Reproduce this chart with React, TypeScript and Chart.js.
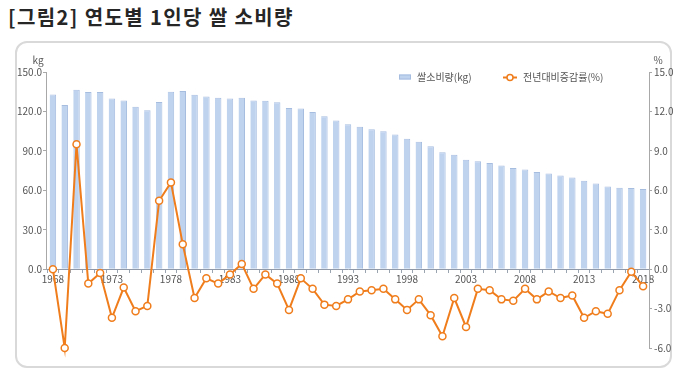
import React, { useEffect, useRef } from "react";
import { Chart, registerables } from "chart.js";

Chart.register(...registerables);

const FONT = "'Noto Sans CJK KR', 'Noto Sans', sans-serif";

const titleText = "[그림2] 연도별 1인당 쌀 소비량";
const barLabel = "쌀소비량(kg)";
const lineLabel = "전년대비증감률(%)";
const leftUnit = "kg";
const rightUnit = "%";

const years = [
  "1968", "1969", "1970", "1971", "1972", "1973", "1974", "1975", "1976", "1977",
  "1978", "1979", "1980", "1981", "1982", "1983", "1984", "1985", "1986", "1987",
  "1988", "1989", "1990", "1991", "1992", "1993", "1994", "1995", "1996", "1997",
  "1998", "1999", "2000", "2001", "2002", "2003", "2004", "2005", "2006", "2007",
  "2008", "2009", "2010", "2011", "2012", "2013", "2014", "2015", "2016", "2017",
  "2018",
];

const consumption = [
  132.9, 124.8, 136.4, 134.7, 134.7, 129.9, 128.4, 123.6, 120.9, 127.1,
  135.0, 135.6, 132.6, 131.4, 130.4, 129.9, 130.4, 128.4, 128.1, 126.9,
  122.7, 122.3, 119.6, 116.4, 113.1, 110.2, 108.3, 106.5, 105.0, 102.4,
  99.2, 96.9, 93.6, 88.9, 87.0, 83.2, 82.0, 80.7, 78.8, 76.9,
  75.8, 74.0, 72.8, 71.2, 69.8, 67.2, 65.1, 62.9, 61.9, 61.8,
  61.0,
];

const changeRate = [
  0.0, -6.0, 9.5, -1.1, -0.3, -3.7, -1.4, -3.2, -2.8, 5.2,
  6.6, 1.9, -2.2, -0.7, -1.1, -0.4, 0.4, -1.5, -0.4, -1.1,
  -3.1, -0.7, -1.5, -2.7, -2.8, -2.3, -1.7, -1.6, -1.5, -2.3,
  -3.1, -2.3, -3.5, -5.1, -2.2, -4.4, -1.5, -1.6, -2.3, -2.4,
  -1.5, -2.3, -1.7, -2.2, -2.0, -3.7, -3.2, -3.4, -1.6, -0.2,
  -1.3,
];

const leftAxis = { min: -60, max: 150, step: 30 };
const rightAxis = { min: -6, max: 15, step: 3 };
const labelEvery = 5;

const BAR_COLOR = "#bfd3ef";
const BAR_BORDER = "#a6bde0";
const LINE_COLOR = "#f07d1c";
const TEXT_COLOR = "#555555";

const overlayPlugin = {
  id: "overlay",
  afterDraw(chart: any) {
    const { ctx, chartArea, scales } = chart;
    const y = scales.y;
    ctx.save();
    ctx.strokeStyle = "#a8a8a8";
    ctx.lineWidth = 1;
    ctx.beginPath();
    ctx.moveTo(chartArea.left - 0.5, y.getPixelForValue(leftAxis.max));
    ctx.lineTo(chartArea.left - 0.5, y.getPixelForValue(0));
    ctx.stroke();

    ctx.fillStyle = TEXT_COLOR;
    ctx.font = `10px ${FONT}`;
    ctx.textBaseline = "middle";
    ctx.textAlign = "center";
    ctx.fillText(leftUnit, chartArea.left - 9, chartArea.top - 12);
    ctx.fillText(rightUnit, chartArea.right + 9, chartArea.top - 12);

    const ly = chartArea.top + 5;
    const bx = 399;
    ctx.fillStyle = BAR_COLOR;
    ctx.fillRect(bx, ly - 2.5, 12, 5);
    ctx.strokeStyle = BAR_BORDER;
    ctx.strokeRect(bx + 0.5, ly - 2, 11, 4);
    ctx.fillStyle = TEXT_COLOR;
    ctx.textAlign = "left";
    ctx.fillText(barLabel, bx + 18, ly);

    const lx = 503;
    ctx.strokeStyle = LINE_COLOR;
    ctx.lineWidth = 2;
    ctx.beginPath();
    ctx.moveTo(lx, ly + 0.5);
    ctx.lineTo(lx + 14, ly + 0.5);
    ctx.stroke();
    ctx.fillStyle = "#ffffff";
    ctx.lineWidth = 1.5;
    ctx.beginPath();
    ctx.arc(lx + 7, ly + 0.5, 3, 0, Math.PI * 2);
    ctx.fill();
    ctx.stroke();
    ctx.fillStyle = TEXT_COLOR;
    ctx.fillText(lineLabel, lx + 20, ly);
    ctx.restore();
  },
};

function ChartView() {
  const ref = useRef<HTMLCanvasElement | null>(null);
  useEffect(() => {
    if (!ref.current) return;
    Chart.defaults.font.family = FONT;
    const chart = new Chart(ref.current, {
      type: "bar",
      data: {
        labels: years,
        datasets: [
          {
            type: "line",
            label: lineLabel,
            data: changeRate,
            yAxisID: "y1",
            borderColor: LINE_COLOR,
            borderWidth: 2,
            pointRadius: 3.5,
            pointBackgroundColor: "#ffffff",
            pointBorderColor: LINE_COLOR,
            pointBorderWidth: 1.5,
            tension: 0,
            order: 1,
            clip: false,
          } as any,
          {
            type: "bar",
            label: barLabel,
            data: consumption,
            yAxisID: "y",
            backgroundColor: BAR_COLOR,
            borderColor: BAR_BORDER,
            borderWidth: { left: 0, right: 1, top: 1, bottom: 0 },
            barPercentage: 0.55,
            categoryPercentage: 1,
            order: 2,
          } as any,
        ],
      },
      options: {
        animation: false,
        responsive: false,
        devicePixelRatio: 1,
        layout: { padding: { left: 7, right: 0, top: 72, bottom: 31 } },
        plugins: {
          legend: { display: false },
          tooltip: { enabled: false },
          title: { display: false },
        },
        scales: {
          x: {
            type: "category",
            offset: true,
            position: { y: 0 } as any,
            grid: {
              display: true,
              drawOnChartArea: false,
              drawTicks: true,
              tickLength: 3,
              color: "#9aa3b0",
              offset: true,
            },
            border: { display: true, color: "#8f99a8", width: 1 },
            ticks: {
              autoSkip: false,
              maxRotation: 0,
              minRotation: 0,
              padding: 1,
              color: TEXT_COLOR,
              font: { size: 10, family: FONT },
              callback: (_v: any, i: number) => (i % labelEvery === 0 ? years[i] : ""),
            },
          },
          y: {
            type: "linear",
            position: "left",
            min: leftAxis.min,
            max: leftAxis.max,
            afterBuildTicks: (s: any) => {
              s.ticks = s.ticks.filter((t: any) => t.value >= 0);
            },
            afterFit: (s: any) => {
              s.width = 40;
            },
            grid: { display: true, drawOnChartArea: false, tickLength: 4, color: "#a8a8a8" },
            border: { display: false },
            ticks: {
              stepSize: leftAxis.step,
              padding: 1,
              color: TEXT_COLOR,
              font: { size: 10, family: FONT },
              callback: (v: any) => Number(v).toFixed(1),
            },
          },
          y1: {
            type: "linear",
            position: "right",
            min: rightAxis.min,
            max: rightAxis.max,
            afterFit: (s: any) => {
              s.width = 31;
            },
            grid: { display: true, drawOnChartArea: false, tickLength: 3, color: "#a8a8a8" },
            border: { display: true, color: "#a8a8a8" },
            ticks: {
              stepSize: rightAxis.step,
              padding: 2,
              color: TEXT_COLOR,
              font: { size: 10, family: FONT },
              callback: (v: any) => Number(v).toFixed(1),
            },
          },
        },
      } as any,
      plugins: [overlayPlugin],
    });
    return () => chart.destroy();
  }, []);
  return (
    <canvas
      ref={ref}
      width={680}
      height={379}
      style={{ position: "absolute", left: 0, top: 0, width: 680, height: 379 }}
    />
  );
}

export default function App() {
  return (
    <div style={{ position: "absolute", left: 0, top: 0, width: 680, height: 379, background: "#ffffff", overflow: "hidden" }}>
      <div
        style={{
          position: "absolute",
          left: 8,
          top: 6,
          fontFamily: FONT,
          fontWeight: 700,
          fontSize: 20,
          lineHeight: "22px",
          letterSpacing: "1.4px",
          color: "#262626",
          whiteSpace: "nowrap",
        }}
      >
        {titleText}
      </div>
      <div
        style={{
          position: "absolute",
          left: 15,
          top: 41,
          width: 653,
          height: 323,
          border: "2px solid #d9d9d9",
          borderRadius: 12,
        }}
      />
      <ChartView />
    </div>
  );
}
